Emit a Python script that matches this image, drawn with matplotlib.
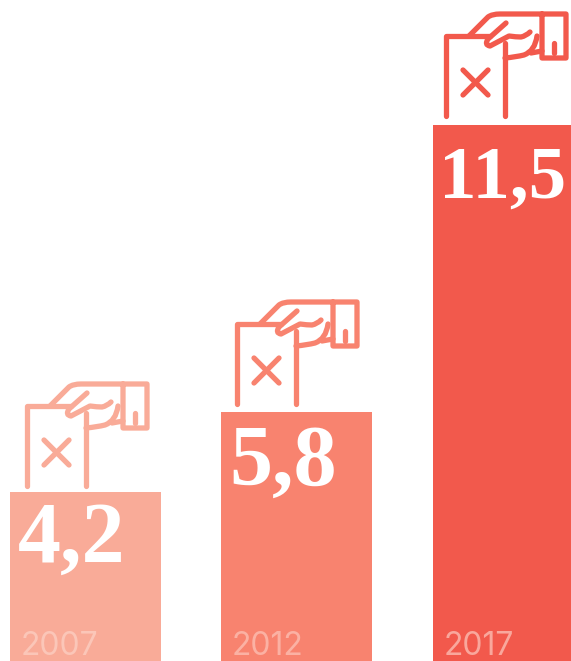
"""Ballot box bars, 2007 / 2012 / 2017."""

import matplotlib

matplotlib.use("Agg")

import matplotlib.pyplot as plt
from matplotlib.patches import PathPatch
from matplotlib.path import Path

years = ["2007", "2012", "2017"]
value_labels = ["4,2", "5,8", "11,5"]
# bar heights as drawn in the picture, the bars are not to scale with the labels
heights = [169, 249, 536]
lefts = [10, 221, 433]
widths = [151, 151, 138]
colors = ["#F9AB98", "#F8836F", "#F2594C"]
year_colors = ["#FBC6B8", "#FBB1A3", "#F9A79C"]
icon_x = [25, 235, 444]
icon_gap = [5, 7, 8]
label_size = [62, 62, 54]
label_dx = [8, 8, 6]
label_drop = [70, 73, 73]

W, H = 571, 661
M, L, C = Path.MOVETO, Path.LINETO, Path.CURVE3

# hand and box outline, in px relative to the icon's lower left corner
ICON = [
    # box
    ([M, L, L], [(2, 1), (2, 81), (46, 81)]),
    ([M, L], [(61, 1), (61, 74)]),
    # cross
    ([M, L], [(19, 47), (44, 22)]),
    ([M, L], [(19, 22), (44, 47)]),
    # back of the hand and cuff
    ([M, L, C, C, L, L, L, L], [(25, 81), (44, 100), (48, 103), (56, 103), (122, 103),
                                (122, 59), (98, 59), (98, 103)]),
    ([M, L], [(110, 74), (110, 64)]),
    # fingers
    ([M, L, C, C, L, C, C, C, C], [(62, 94), (44, 78), (40, 72), (46, 71), (65, 81),
                                   (72, 80), (77, 80), (82, 81), (86, 85)]),
    ([M, C, C, C, C], [(61, 59), (72, 60), (80, 62), (91, 66), (93, 81)]),
    ([M, L], [(98, 66), (87, 64)]),
]


def draw_icon(ax, x0, y0, color):
    for codes, pts in ICON:
        path = Path([(x0 + px, y0 + py) for px, py in pts], codes)
        ax.add_patch(PathPatch(path, fill=False, edgecolor=color, linewidth=3.8,
                               capstyle="round", joinstyle="round"))


def main():
    fig = plt.figure(figsize=(W / 100, H / 100), dpi=100)
    ax = fig.add_axes([0, 0, 1, 1])
    ax.set_xlim(0, W)
    ax.set_ylim(0, H)
    ax.axis("off")

    ax.bar(lefts, heights, widths, align="edge", color=colors, linewidth=0)

    for i, year in enumerate(years):
        top = heights[i]
        ax.text(lefts[i] + label_dx[i], top - label_drop[i], value_labels[i],
                family="Liberation Serif", weight="bold", color="white",
                fontsize=label_size[i], ha="left", va="baseline")
        ax.text(lefts[i] + 11, 6, year, family="Inter", color=year_colors[i],
                fontsize=23, ha="left", va="baseline")
        draw_icon(ax, icon_x[i], top + icon_gap[i], colors[i])

    fig.savefig("out.png", dpi=100, facecolor="white")
    plt.close(fig)


if __name__ == "__main__":
    main()
